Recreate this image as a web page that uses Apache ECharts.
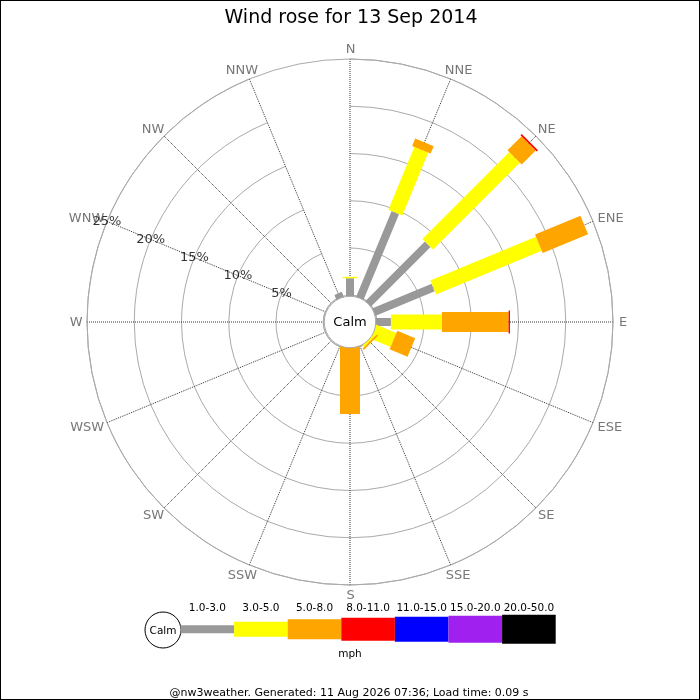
<!DOCTYPE html>
<html>
<head>
<meta charset="utf-8">
<script src="https://cdn.jsdelivr.net/npm/echarts@6/dist/echarts.min.js"></script>
<style>
  html, body { margin: 0; padding: 0; background: #fff; }
  #wrap { position: relative; width: 700px; height: 700px; }
  #chart { width: 700px; height: 700px; }
  #frame { position: absolute; left: 0; top: 0; width: 700px; height: 700px; box-sizing: border-box; border: 1px solid #000; pointer-events: none; }
</style>
</head>
<body>
<div id="wrap"><div id="chart"></div><div id="frame"></div></div>
<script>
// compass points, clockwise from north
const directions = ['N', 'NNE', 'NE', 'ENE', 'E', 'ESE', 'SE', 'SSE', 'S', 'SSW', 'SW', 'WSW', 'W', 'WNW', 'NW', 'NNW']
const speedBands = ['1.0-3.0', '3.0-5.0', '5.0-8.0', '8.0-11.0', '11.0-15.0', '15.0-20.0', '20.0-50.0']

// % of time per direction in each speed band (mph)
const band1to3 = [1.8, 9.7, 8.8, 6.7, 1.5, 0, 0, 0, 0, 0, 0, 0, 0, 0, 0, 0.45]
const band3to5 = [0.15, 7.2, 13.0, 12.1, 5.4, 2.15, 0.1, 0, 0, 0, 0, 0, 0, 0, 0, 0]
const band5to8 = [0, 0.85, 2.1, 5.2, 7.05, 2.05, 0.2, 0, 6.9, 0, 0, 0, 0, 0, 0, 0]
const band8to11 = [0, 0, 0.18, 0, 0.15, 0, 0, 0, 0, 0, 0, 0, 0, 0, 0, 0]
const band11to15 = [0, 0, 0, 0, 0, 0, 0, 0, 0, 0, 0, 0, 0, 0, 0, 0]
const band15to20 = [0, 0, 0, 0, 0, 0, 0, 0, 0, 0, 0, 0, 0, 0, 0, 0]
const band20to50 = [0, 0, 0, 0, 0, 0, 0, 0, 0, 0, 0, 0, 0, 0, 0, 0]

const ringTicks = [5, 10, 15, 20, 25]
const ringLabels = ['5%', '10%', '15%', '20%', '25%']

const bands = [band1to3, band3to5, band5to8, band8to11, band11to15, band15to20, band20to50]
const bandColors = ['#999999', '#ffff00', '#ffa500', '#ff0000', '#0000ff', '#a020f0', '#000000']
const bandWidths = [8, 15, 20, 23, 25, 27, 29]
const font = 'DejaVu Sans'

// stack the bands outwards: [start, dirIndex, end, band]
let segments = []
directions.forEach((d, i) => {
  let acc = 0
  bands.forEach((b, k) => {
    if (b[i] > 0) {
      segments.push([acc, i, acc + b[i], k])
      acc += b[i]
    }
  })
})

function renderSegment (params, api) {
  let cs = params.coordSys
  let start = api.value(0)
  let end = api.value(2)
  let band = api.value(3)
  let p1 = api.coord([end, api.value(1)])
  // first segment runs in under the calm circle
  let p0 = start > 0 ? api.coord([start, api.value(1)]) : [cs.cx, cs.cy]
  let dx = p1[0] - cs.cx
  let dy = p1[1] - cs.cy
  let len = Math.sqrt(dx * dx + dy * dy)
  let hw = bandWidths[band] / 2
  let nx = -dy / len * hw
  let ny = dx / len * hw
  return {
    type: 'polygon',
    shape: {
      points: [
        [p0[0] + nx, p0[1] + ny],
        [p1[0] + nx, p1[1] + ny],
        [p1[0] - nx, p1[1] - ny],
        [p0[0] - nx, p0[1] - ny]
      ]
    },
    style: { fill: bandColors[band] }
  }
}

function renderCalm (params, api) {
  let cs = params.coordSys
  return {
    type: 'group',
    children: [{
      type: 'circle',
      shape: { cx: cs.cx, cy: cs.cy, r: cs.r0 - 1 },
      style: { fill: '#fff', stroke: '#aaa', lineWidth: 1 }
    }, {
      type: 'text',
      style: {
        x: cs.cx, y: cs.cy + 1, text: 'Calm', align: 'center', verticalAlign: 'middle',
        fill: '#000', font: '13px "DejaVu Sans"'
      }
    }]
  }
}

// direction labels sit just outside the outer ring, pushed out by half their size
let measureCtx = document.createElement('canvas').getContext('2d')
measureCtx.font = '13px "DejaVu Sans"'
let dirLabelData = directions.map((d, i) => {
  let a = i * 22.5 * Math.PI / 180
  let ux = Math.sin(a)
  let uy = -Math.cos(a)
  let hw = measureCtx.measureText(d).width / 2
  return { value: [25, i], label: { offset: [ux * (5.2 + hw) + 0.7, uy * 10 + 1] } }
})

// legend along the bottom
let legendEls = [{
  type: 'circle',
  shape: { cx: 163, cy: 630, r: 18 },
  style: { fill: '#fff', stroke: '#000', lineWidth: 1 }
}, {
  type: 'text',
  style: { x: 163, y: 631, text: 'Calm', align: 'center', verticalAlign: 'middle', fill: '#000', font: '10.5px "DejaVu Sans"' }
}]
speedBands.forEach((name, k) => {
  let x = 180.5 + k * 53.6
  legendEls.push({
    type: 'rect',
    shape: { x: x, y: 629.2 - bandWidths[k] / 2, width: 53.6, height: bandWidths[k] },
    style: { fill: bandColors[k] }
  })
  legendEls.push({
    type: 'text',
    style: { x: x + 26.8, y: 608, text: name, align: 'center', verticalAlign: 'middle', fill: '#000', font: '10.5px "DejaVu Sans"' }
  })
})
legendEls.push({
  type: 'text',
  style: { x: 350, y: 654, text: 'mph', align: 'center', verticalAlign: 'middle', fill: '#000', font: '10.5px "DejaVu Sans"' }
})
legendEls.push({
  type: 'text',
  style: { x: 349, y: 693.5, text: '@nw3weather. Generated: 11 Aug 2026 07:36; Load time: 0.09 s', align: 'center', verticalAlign: 'middle', fill: '#000', font: '11px "DejaVu Sans"' }
})
legendEls.push({
  type: 'text',
  style: { x: 351, y: 18.5, text: 'Wind rose for 13 Sep 2014', align: 'center', verticalAlign: 'middle', fill: '#000', font: '19px "DejaVu Sans"' }
})

let chart = echarts.init(document.getElementById('chart'))
chart.setOption({
  animation: false,
  backgroundColor: '#fff',
  textStyle: { fontFamily: font },
  polar: {
    center: [350, 322],
    radius: [26.75, 263]
  },
  angleAxis: {
    type: 'category',
    data: directions,
    boundaryGap: false,
    startAngle: 90,
    clockwise: true,
    axisLine: { show: true, lineStyle: { color: '#aaa', width: 1 } },
    axisTick: { show: false },
    axisLabel: { show: false },
    splitLine: { show: true, lineStyle: { color: '#333', type: 'dotted', width: 1 } }
  },
  radiusAxis: {
    type: 'value',
    min: 0,
    max: 25,
    interval: 5,
    axisLine: { show: false },
    axisTick: { show: false },
    axisLabel: { show: false },
    splitLine: { show: true, lineStyle: { color: '#aaa', width: 1 } }
  },
  graphic: legendEls,
  series: [{
    type: 'custom',
    coordinateSystem: 'polar',
    renderItem: renderSegment,
    data: segments,
    silent: true,
    z: 3
  }, {
    type: 'custom',
    coordinateSystem: 'polar',
    renderItem: renderCalm,
    data: [[0, 0]],
    silent: true,
    z: 5
  }, {
    type: 'scatter',
    coordinateSystem: 'polar',
    symbolSize: 0,
    clip: false,
    silent: true,
    z: 6,
    data: ringTicks.map(v => [v, directions.indexOf('WNW')]),
    label: {
      show: true,
      position: 'inside',
      color: '#000',
      fontSize: 13,
      fontFamily: font,
      formatter: p => ringLabels[p.dataIndex]
    }
  }, {
    type: 'scatter',
    coordinateSystem: 'polar',
    symbolSize: 0,
    clip: false,
    silent: true,
    z: 6,
    data: dirLabelData,
    label: {
      show: true,
      position: 'inside',
      color: '#555',
      fontSize: 13,
      fontFamily: font,
      formatter: p => directions[p.dataIndex]
    }
  }]
})
</script>
</body>
</html>
